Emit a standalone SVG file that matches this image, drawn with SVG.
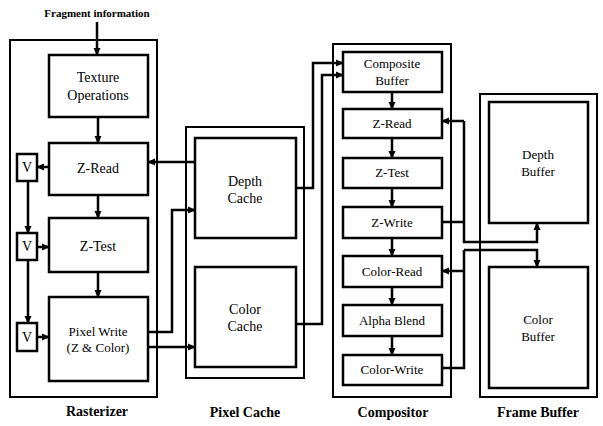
<svg xmlns="http://www.w3.org/2000/svg" width="603" height="426" viewBox="0 0 603 426">
<style>
.outer{fill:none;stroke:#000;stroke-width:2}
.box{fill:#fff;stroke:#000;stroke-width:2.5}
.c{fill:none;stroke:#000;stroke-width:2.5}
.a{marker-end:url(#ah)}
</style>
<defs>
<marker id="ah" markerUnits="userSpaceOnUse" markerWidth="8" markerHeight="8" refX="7" refY="4" orient="auto">
<path d="M0,0.5 L8,4 L0,7.5 z" fill="#000"/>
</marker>
</defs>
<rect width="603" height="426" fill="#fff"/>
<text x="97" y="17" font-family="Liberation Serif" font-size="11" font-weight="bold" text-anchor="middle">Fragment information</text>

<g id="rasterizer">
<rect class="outer" x="10" y="40" width="147" height="357"/>
<text x="97" y="416" font-family="Liberation Serif" font-size="14" font-weight="bold" text-anchor="middle">Rasterizer</text>
</g>
<g id="texture-operations"><rect class="box" x="49" y="55" width="99" height="62"/><text x="98" y="82" font-family="Liberation Serif" font-size="14" text-anchor="middle">Texture</text><text x="98" y="100" font-family="Liberation Serif" font-size="14" text-anchor="middle">Operations</text></g>
<g id="r-z-read"><rect class="box" x="49" y="143" width="99" height="52"/><text x="98" y="173" font-family="Liberation Serif" font-size="14" text-anchor="middle">Z-Read</text></g>
<g id="r-z-test"><rect class="box" x="49" y="218" width="99" height="54"/><text x="98" y="251" font-family="Liberation Serif" font-size="14" text-anchor="middle">Z-Test</text></g>
<g id="pixel-write"><rect class="box" x="49" y="297" width="99" height="84"/><text x="98" y="336" font-family="Liberation Serif" font-size="13" text-anchor="middle">Pixel Write</text><text x="98" y="352" font-family="Liberation Serif" font-size="13" text-anchor="middle">(Z &amp; Color)</text></g>
<g id="v1"><rect class="box" x="17" y="154" width="20" height="27"/><text x="27" y="172" font-family="Liberation Serif" font-size="14" text-anchor="middle">V</text></g>
<g id="v2"><rect class="box" x="17" y="233" width="20" height="27"/><text x="27" y="251" font-family="Liberation Serif" font-size="14" text-anchor="middle">V</text></g>
<g id="v3"><rect class="box" x="17" y="323" width="20" height="28"/><text x="27" y="342" font-family="Liberation Serif" font-size="14" text-anchor="middle">V</text></g>

<g id="pixel-cache">
<rect class="outer" x="186" y="127" width="118" height="251"/>
<text x="245" y="417" font-family="Liberation Serif" font-size="14" font-weight="bold" text-anchor="middle">Pixel Cache</text>
</g>
<g id="depth-cache"><rect class="box" x="195" y="138" width="101" height="100"/><text x="245" y="186" font-family="Liberation Serif" font-size="14" text-anchor="middle">Depth</text><text x="245" y="203" font-family="Liberation Serif" font-size="14" text-anchor="middle">Cache</text></g>
<g id="color-cache"><rect class="box" x="195" y="267" width="101" height="100"/><text x="245" y="314" font-family="Liberation Serif" font-size="14" text-anchor="middle">Color</text><text x="245" y="331" font-family="Liberation Serif" font-size="14" text-anchor="middle">Cache</text></g>

<g id="compositor">
<rect class="outer" x="333" y="44" width="118" height="353"/>
<text x="393" y="417" font-family="Liberation Serif" font-size="14" font-weight="bold" text-anchor="middle">Compositor</text>
</g>
<g id="composite-buffer"><rect class="box" x="343" y="52" width="99" height="40"/><text x="392" y="68" font-family="Liberation Serif" font-size="13" text-anchor="middle">Composite</text><text x="392" y="85" font-family="Liberation Serif" font-size="13" text-anchor="middle">Buffer</text></g>
<g id="c-z-read"><rect class="box" x="343" y="109" width="99" height="29"/><text x="392" y="128" font-family="Liberation Serif" font-size="13" text-anchor="middle">Z-Read</text></g>
<g id="c-z-test"><rect class="box" x="343" y="158" width="99" height="30"/><text x="392" y="177" font-family="Liberation Serif" font-size="13" text-anchor="middle">Z-Test</text></g>
<g id="z-write"><rect class="box" x="343" y="207" width="99" height="31"/><text x="392" y="227" font-family="Liberation Serif" font-size="13" text-anchor="middle">Z-Write</text></g>
<g id="color-read"><rect class="box" x="343" y="256" width="99" height="31"/><text x="392" y="276" font-family="Liberation Serif" font-size="13" text-anchor="middle">Color-Read</text></g>
<g id="alpha-blend"><rect class="box" x="343" y="305" width="99" height="31"/><text x="392" y="325" font-family="Liberation Serif" font-size="13" text-anchor="middle">Alpha Blend</text></g>
<g id="color-write"><rect class="box" x="343" y="355" width="99" height="30"/><text x="392" y="374" font-family="Liberation Serif" font-size="13" text-anchor="middle">Color-Write</text></g>

<g id="frame-buffer">
<rect class="outer" x="480" y="94" width="117" height="303"/>
<text x="538" y="417" font-family="Liberation Serif" font-size="14" font-weight="bold" text-anchor="middle">Frame Buffer</text>
</g>
<g id="depth-buffer"><rect class="box" x="489" y="102" width="99" height="121"/><text x="538" y="159" font-family="Liberation Serif" font-size="13" text-anchor="middle">Depth</text><text x="538" y="176" font-family="Liberation Serif" font-size="13" text-anchor="middle">Buffer</text></g>
<g id="color-buffer"><rect class="box" x="489" y="267" width="99" height="121"/><text x="538" y="324" font-family="Liberation Serif" font-size="13" text-anchor="middle">Color</text><text x="538" y="341" font-family="Liberation Serif" font-size="13" text-anchor="middle">Buffer</text></g>

<g id="connectors">
<path class="c a" d="M97,22 V55"/>
<path class="c a" d="M98,117 V143"/>
<path class="c a" d="M98,195 V218"/>
<path class="c a" d="M98,272 V297"/>
<path class="c a" d="M49,167 H37"/>
<path class="c a" d="M28,181 V233"/>
<path class="c a" d="M37,247 H49"/>
<path class="c a" d="M28,260 V323"/>
<path class="c a" d="M37,337 H49"/>
<path class="c a" d="M195,162 H148"/>
<path class="c a" d="M148,332 H172 V210 H195"/>
<path class="c a" d="M148,347 H195"/>
<path class="c a" d="M296,188 H313 V63 H343"/>
<path class="c a" d="M296,324 H322 V75 H343"/>
<path class="c a" d="M392,92 V109"/>
<path class="c a" d="M392,138 V158"/>
<path class="c a" d="M392,188 V207"/>
<path class="c a" d="M392,238 V256"/>
<path class="c a" d="M392,287 V305"/>
<path class="c a" d="M392,336 V355"/>
<path class="c a" d="M464,121 H442"/>
<path class="c a" d="M464,121 V242 H537 V223"/>
<path class="c" d="M442,222 H464"/>
<path class="c a" d="M464,250 H537 V267"/>
<path class="c" d="M464,250 V368 H442"/>
<path class="c a" d="M464,271 H442"/>
</g>
</svg>
